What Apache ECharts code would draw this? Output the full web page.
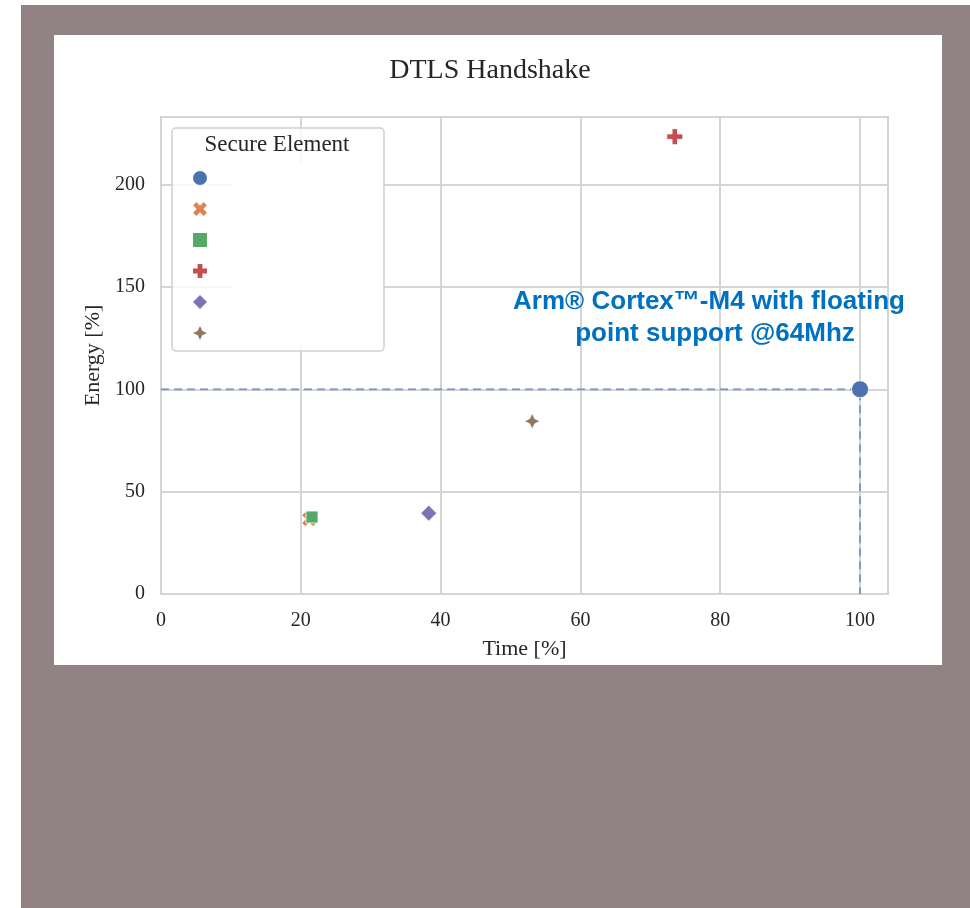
<!DOCTYPE html>
<html><head><meta charset="utf-8">
<script src="https://cdn.jsdelivr.net/npm/echarts@6/dist/echarts.min.js"></script>
<style>
html,body{margin:0;padding:0;background:#fff;}
#bg{position:absolute;left:21px;top:5px;width:949px;height:903px;background:#918283;}
#panel{position:absolute;left:54px;top:35px;width:888px;height:630px;background:#fff;}
#chart{position:absolute;left:0;top:0;width:970px;height:908px;}
</style></head>
<body><div id="bg"></div><div id="panel"></div><div id="chart"></div>
<script>
// Data
const seriesNames = ['SE1', 'SE2', 'SE3', 'SE4', 'SE5', 'SE6'];
const timeValues = [100, 21.2, 21.6, 73.5, 38.3, 53.1];
const energyValues = [100, 36.6, 37.6, 223.4, 39.5, 84.4];
const refLineX = [0, 100, 100];
const refLineY = [100, 100, 0];
const xTicks = [0, 20, 40, 60, 80, 100];
const yTicks = [0, 50, 100, 150, 200];

const colors = ['#4c72b0', '#dd8452', '#55a868', '#c44e52', '#8172b3', '#937860'];
const symbols = [
  'circle',
  'path://M-2.6,-5 L0,-2.4 L2.6,-5 L5,-2.6 L2.4,0 L5,2.6 L2.6,5 L0,2.4 L-2.6,5 L-5,2.6 L-2.4,0 L-5,-2.6 Z',
  'rect',
  'path://M-1.7,-5 L1.7,-5 L1.7,-1.7 L5,-1.7 L5,1.7 L1.7,1.7 L1.7,5 L-1.7,5 L-1.7,1.7 L-5,1.7 L-5,-1.7 L-1.7,-1.7 Z',
  'diamond',
  'path://M0,-5 L1.6,-1.6 L5,0 L1.6,1.6 L0,5 L-1.6,1.6 L-5,0 L-1.6,-1.6 Z'
];
const sizes = [17, 15, 12, 16, 16, 16];

const serif = 'Liberation Serif';
const chart = echarts.init(document.getElementById('chart'), null, {renderer: 'canvas'});

const series = seriesNames.map((n, i) => ({
  name: n,
  type: 'scatter',
  data: [[timeValues[i], energyValues[i]]],
  symbol: symbols[i],
  symbolSize: sizes[i],
  itemStyle: {color: colors[i], borderColor: '#fff', borderWidth: 0.8, opacity: 1},
  z: 5
}));
series.unshift({
  name: 'ref',
  type: 'line',
  data: refLineX.map((x, i) => [x, refLineY[i]]),
  symbol: 'none',
  lineStyle: {color: 'rgba(76,114,176,0.6)', width: 2, type: [8, 5]},
  silent: true,
  z: 3
});

chart.setOption({
  backgroundColor: 'transparent',
  animation: false,
  title: {
    text: 'DTLS Handshake', left: 485, top: 52, textAlign: 'center',
    textStyle: {fontFamily: serif, fontWeight: 'normal', fontSize: 28, color: '#262626'}
  },
  grid: {left: 161, right: 82, top: 117, bottom: 314, show: true, borderColor: '#cccccc', borderWidth: 2, backgroundColor: 'transparent'},
  xAxis: {
    type: 'value', min: 0, max: 104, interval: 20,
    name: 'Time [%]', nameLocation: 'middle', nameGap: 44,
    nameTextStyle: {fontFamily: serif, fontSize: 22, color: '#262626'},
    axisLine: {show: false}, axisTick: {show: false},
    axisLabel: {fontFamily: serif, fontSize: 20, color: '#262626', margin: 17, showMaxLabel: false,
      formatter: v => xTicks.includes(v) ? String(v) : ''},
    splitLine: {show: true, lineStyle: {color: '#d5d5d5', width: 2}}
  },
  yAxis: {
    type: 'value', min: 0, max: 233, interval: 50,
    name: 'Energy [%]', nameLocation: 'middle', nameGap: 56, nameRotate: 90,
    nameTextStyle: {fontFamily: serif, fontSize: 22, color: '#262626'},
    axisLine: {show: false}, axisTick: {show: false},
    axisLabel: {fontFamily: serif, fontSize: 20, color: '#262626', margin: 16, showMaxLabel: false,
      formatter: v => yTicks.includes(v) ? String(v) : ''},
    splitLine: {show: true, lineStyle: {color: '#d5d5d5', width: 2}}
  },
  legend: {
    data: seriesNames,
    orient: 'vertical', left: 193, top: 171, padding: 0,
    itemWidth: 14, itemHeight: 14, itemGap: 17,
    itemStyle: {borderWidth: 0},
    formatter: () => '',
    selectedMode: false, z: 10
  },
  graphic: [
    {type: 'rect', z: 8, shape: {x: 172, y: 128, width: 212, height: 223, r: 4},
     style: {fill: 'rgba(255,255,255,0.8)', stroke: '#cfcfcf', lineWidth: 1.5}},
    {type: 'rect', z: 9, shape: {x: 233, y: 163, width: 150, height: 182},
     style: {fill: '#ffffff'}},
    {type: 'text', z: 10, x: 277, y: 145,
     style: {text: 'Secure Element', font: '23px "Liberation Serif"', fill: '#262626', textAlign: 'center', textVerticalAlign: 'middle'}},
    {type: 'text', z: 10, x: 709, y: 302,
     style: {text: 'Arm® Cortex™-M4 with floating', font: 'bold 26px "Liberation Sans"', fill: '#0070c0', textAlign: 'center', textVerticalAlign: 'middle'}},
    {type: 'text', z: 10, x: 715, y: 334,
     style: {text: 'point support @64Mhz', font: 'bold 26px "Liberation Sans"', fill: '#0070c0', textAlign: 'center', textVerticalAlign: 'middle'}}
  ],
  series: series
});
</script></body></html>
